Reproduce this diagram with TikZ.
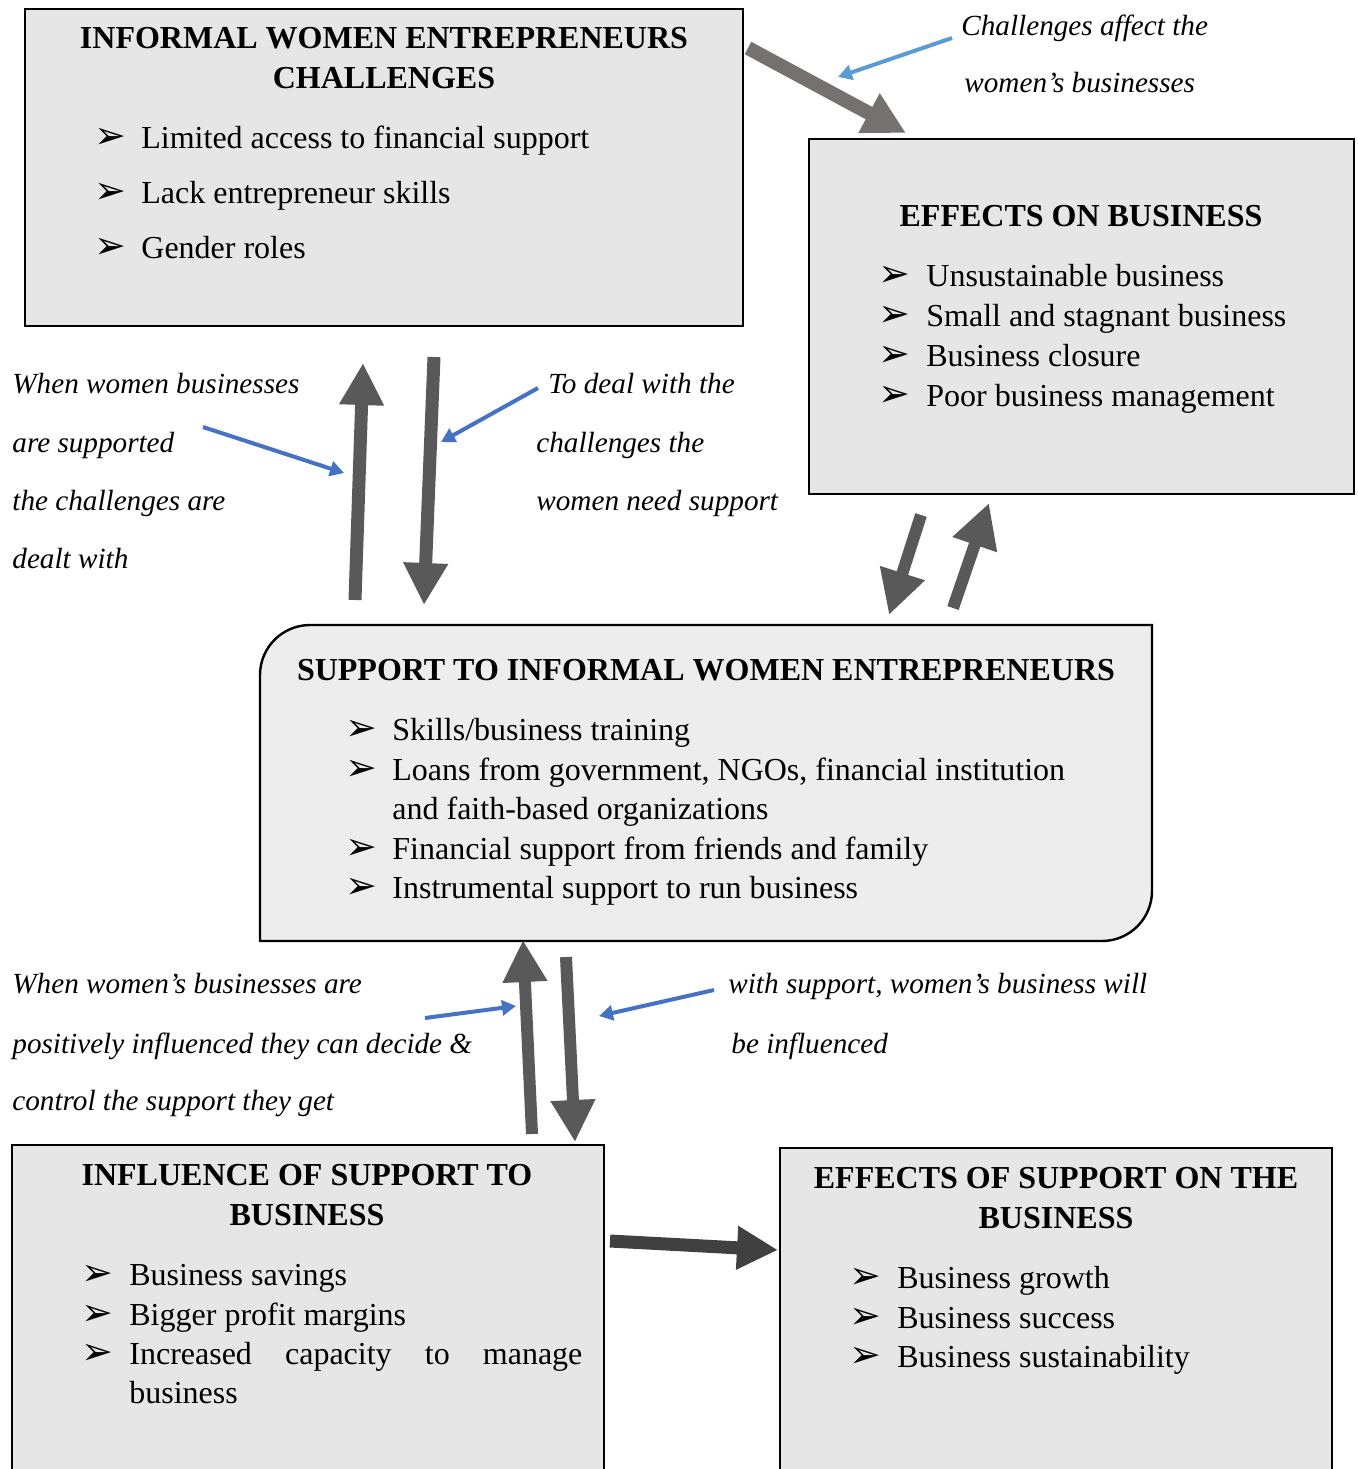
\documentclass[tikz,border=0pt]{standalone}
\usepackage{fontspec}
\setmainfont{Liberation Serif}
\newfontfamily\dingfont{DejaVu Sans}
\usetikzlibrary{arrows.meta}

\definecolor{boxgray}{HTML}{E7E6E6}
\definecolor{supgray}{HTML}{EDEDED}
\definecolor{arrowgray}{HTML}{595959}
\definecolor{arrowtaupe}{HTML}{767171}
\definecolor{arrowdark}{HTML}{404040}
\definecolor{noteblue}{HTML}{4472C4}
\definecolor{lightblue}{HTML}{5B9BD5}

\begin{document}
\begin{tikzpicture}[x=0.5pt, y=-0.5pt,
  box/.style={draw=black, line width=1.2pt, fill=boxgray, inner sep=0pt},
  supbox/.style={draw=black, line width=1.2pt, fill=supgray},
  head/.style={anchor=base, inner sep=0pt, font=\fontsize{16}{19}\selectfont\bfseries},
  item/.style={anchor=base west, inner sep=0pt, font=\fontsize{16}{19}\selectfont},
  bul/.style={anchor=base west, inner sep=0pt, font=\dingfont\fontsize{19}{19}\selectfont},
  note/.style={anchor=base west, inner sep=0pt, font=\fontsize{14.6}{17}\selectfont\itshape},
  bigarrow/.style={draw=arrowgray, line width=6.5pt, -{Triangle[width=21pt,length=21pt]}},
  bluearrow/.style={draw=noteblue, line width=2pt, -{Triangle[width=7.5pt,length=7pt]}}]
  \useasboundingbox (0,0) rectangle (1357,1469);

  % challenges
  \node[box, minimum width=359pt, minimum height=158.5pt] (chal) at (384,167.5) {};
  \node[head] (chalH1) at (384,48) {INFORMAL WOMEN ENTREPRENEURS};
  \node[head] (chalH2) at (384,88) {CHALLENGES};
  \foreach \i/\y/\t in {1/148/Limited access to financial support,
                        2/203/Lack entrepreneur skills,
                        3/258/Gender roles} {
    \node[bul] (chalB\i) at (94,\y) {➢};
    \node[item] (chalT\i) at (141,\y) {\t};
  }

  % effects on business
  \node[box, minimum width=272.5pt, minimum height=177.5pt] (eff) at (1081.5,316.5) {};
  \node[head] (effH) at (1081,226) {EFFECTS ON BUSINESS};
  \foreach \i/\y/\t in {1/286/Unsustainable business,
                        2/326/Small and stagnant business,
                        3/366/Business closure,
                        4/406/Poor business management} {
    \node[bul] (effB\i) at (878,\y) {➢};
    \node[item] (effT\i) at (926,\y) {\t};
  }

  % support
  \filldraw[supbox] (260,941) -- (260,675) .. controls (260,647.4) and (282.4,625) .. (310,625)
    -- (1152,625) -- (1152,891) .. controls (1152,918.6) and (1129.6,941) .. (1102,941) -- cycle;
  \node[head] (supH) at (706,680) {SUPPORT TO INFORMAL WOMEN ENTREPRENEURS};
  \foreach \i/\y/\t in {1/740/{Skills/business training},
                        2/780/{Loans from government, NGOs, financial institution},
                        3/859/{Financial support from friends and family},
                        4/898/{Instrumental support to run business}} {
    \node[bul] (supB\i) at (345,\y) {➢};
    \node[item] (supT\i) at (392,\y) {\t};
  }
  \node[item] (supT2b) at (392,819) {and faith-based organizations};

  % influence of support
  \node[box, minimum width=296pt, minimum height=167.5pt] (infl) at (308,1312.5) {};
  \node[head] (inflH1) at (307,1185) {INFLUENCE OF SUPPORT TO};
  \node[head] (inflH2) at (307,1225) {BUSINESS};
  \foreach \i/\y/\t in {1/1285/Business savings,
                        2/1325/Bigger profit margins,
                        3/1364/\makebox[226.5pt][s]{Increased capacity to manage}} {
    \node[bul] (inflB\i) at (81,\y) {➢};
    \node[item] (inflT\i) at (129,\y) {\t};
  }
  \node[item] (inflT3b) at (129,1403) {business};

  % effects of support
  \node[box, minimum width=276pt, minimum height=166pt] (effsup) at (1056,1314) {};
  \node[head] (effsupH1) at (1056,1188) {EFFECTS OF SUPPORT ON THE};
  \node[head] (effsupH2) at (1056,1228) {BUSINESS};
  \foreach \i/\y/\t in {1/1288/Business growth,
                        2/1328/Business success,
                        3/1367/Business sustainability} {
    \node[bul] (effsupB\i) at (849,\y) {➢};
    \node[item] (effsupT\i) at (897,\y) {\t};
  }

  % notes
  \node[note] (n1a) at (961,35) {Challenges affect the};
  \node[note] (n1b) at (964,92) {women’s businesses};
  \node[note] (n2a) at (12,393) {When women businesses};
  \node[note] (n2b) at (12,452) {are supported};
  \node[note] (n2c) at (12,510) {the challenges are};
  \node[note] (n2d) at (12,568) {dealt with};
  \node[note] (n3a) at (548,393) {To deal with the};
  \node[note] (n3b) at (536,452) {challenges the};
  \node[note] (n3c) at (536,510) {women need support};
  \node[note] (n4a) at (12,993) {When women’s businesses are};
  \node[note] (n4b) at (12,1053) {positively influenced they can decide \&};
  \node[note] (n4c) at (12,1110) {control the support they get};
  \node[note] (n5a) at (728,993) {with support, women’s business will};
  \node[note] (n5b) at (731,1053) {be influenced};

  % big arrows
  \coordinate (c2eS) at (748,48);   \coordinate (c2eE) at (906,133);
  \coordinate (s2cS) at (355,600);  \coordinate (s2cE) at (363,363);
  \coordinate (c2sS) at (434,357);  \coordinate (c2sE) at (424,605);
  \coordinate (e2sS) at (921,515);  \coordinate (e2sE) at (889,615);
  \coordinate (s2eS) at (953,608);  \coordinate (s2eE) at (989,503);
  \coordinate (i2sS) at (532,1134); \coordinate (i2sE) at (523,940);
  \coordinate (s2iS) at (566,957);  \coordinate (s2iE) at (575,1142);
  \coordinate (i2fS) at (610,1241); \coordinate (i2fE) at (778,1250);

  \draw[bigarrow, draw=arrowtaupe, line width=7pt, -{Triangle[width=21pt,length=21pt]}] (c2eS) -- (c2eE);
  \draw[bigarrow] (s2cS) -- (s2cE);
  \draw[bigarrow] (c2sS) -- (c2sE);
  \draw[bigarrow, line width=6pt, -{Triangle[width=22pt,length=22pt]}] (e2sS) -- (e2sE);
  \draw[bigarrow, line width=6pt, -{Triangle[width=22pt,length=22pt]}] (s2eS) -- (s2eE);
  \draw[bigarrow, line width=6pt] (i2sS) -- (i2sE);
  \draw[bigarrow, line width=6pt] (s2iS) -- (s2iE);
  \draw[bigarrow, draw=arrowdark, -{Triangle[width=20.5pt,length=20.5pt]}] (i2fS) -- (i2fE);

  % blue pointers
  \coordinate (b1S) at (952,38);  \coordinate (b1E) at (838,77);
  \coordinate (b2S) at (203,427); \coordinate (b2E) at (344,473);
  \coordinate (b3S) at (538,388); \coordinate (b3E) at (441,442);
  \coordinate (b4S) at (425,1018); \coordinate (b4E) at (516,1006);
  \coordinate (b5S) at (714,990); \coordinate (b5E) at (599,1016);
  \draw[bluearrow, draw=lightblue] (b1S) -- (b1E);
  \draw[bluearrow] (b2S) -- (b2E);
  \draw[bluearrow] (b3S) -- (b3E);
  \draw[bluearrow] (b4S) -- (b4E);
  \draw[bluearrow] (b5S) -- (b5E);
\end{tikzpicture}
\end{document}
